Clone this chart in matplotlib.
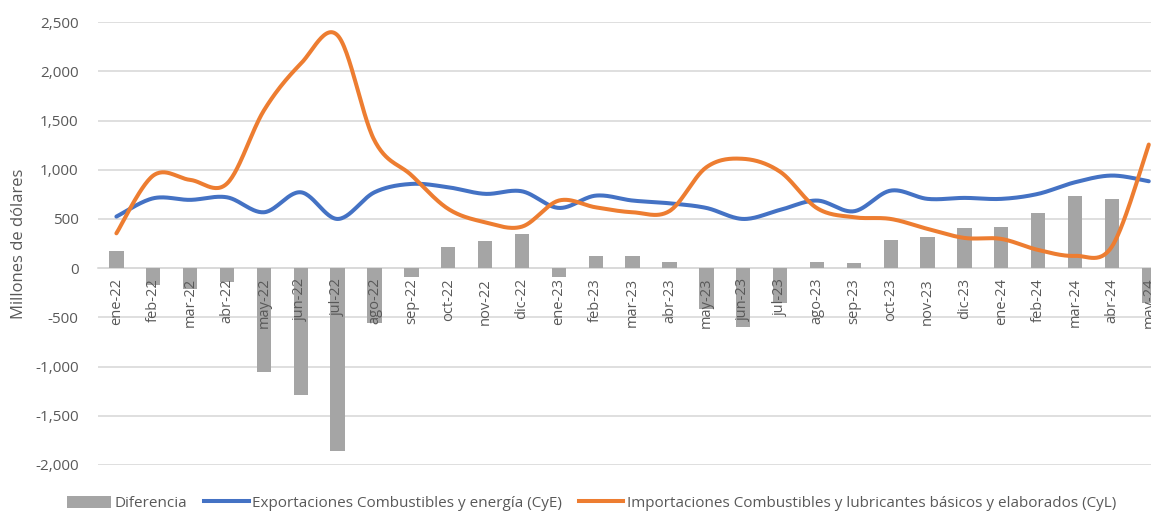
import numpy as np
import matplotlib
matplotlib.use("Agg")
import matplotlib.pyplot as plt
from matplotlib.patches import Patch
from matplotlib.lines import Line2D

months = ["ene-22", "feb-22", "mar-22", "abr-22", "may-22", "jun-22", "jul-22", "ago-22",
          "sep-22", "oct-22", "nov-22", "dic-22", "ene-23", "feb-23", "mar-23", "abr-23",
          "may-23", "jun-23", "jul-23", "ago-23", "sep-23", "oct-23", "nov-23", "dic-23",
          "ene-24", "feb-24", "mar-24", "abr-24", "may-24"]

diferencia = [175, -175, -210, -145, -1055, -1285, -1856, -557,
              -85, 212, 280, 350, -85, 125, 125, 65,
              -420, -600, -355, 65, 55, 290, 320, 408,
              418, 563, 735, 698, -355]

exportaciones = [524, 710, 694, 720, 568, 771, 500, 771,
                 856, 822, 755, 781, 612, 737, 687, 659,
                 612, 500, 592, 687, 578, 788, 704, 714,
                 704, 755, 873, 941, 883]

importaciones = [354, 941, 897, 860, 1602, 2077, 2365, 1297,
                 945, 602, 466, 422, 687, 618, 568, 580,
                 1025, 1111, 980, 610, 517, 500, 399, 307,
                 297, 185, 125, 220, 1256]

BLUE = "#4472C4"
ORANGE = "#ED7D31"
GRAY = "#A5A5A5"
TXT = "#595959"


def smooth(x, y, n=30):
    # bezier smoothing similar to spreadsheet "smoothed line"
    x = np.asarray(x, float)
    y = np.asarray(y, float)
    px = np.concatenate([[x[0]], x, [x[-1]]])
    py = np.concatenate([[y[0]], y, [y[-1]]])
    xs, ys = [], []
    t = np.linspace(0, 1, n)
    for i in range(1, len(px) - 2):
        p0 = np.array([px[i - 1], py[i - 1]])
        p1 = np.array([px[i], py[i]])
        p2 = np.array([px[i + 1], py[i + 1]])
        p3 = np.array([px[i + 2], py[i + 2]])
        c1 = p1 + (p2 - p0) / 6
        c2 = p2 - (p3 - p1) / 6
        b = ((1 - t) ** 3)[:, None] * p1 + (3 * (1 - t) ** 2 * t)[:, None] * c1 \
            + (3 * (1 - t) * t ** 2)[:, None] * c2 + (t ** 3)[:, None] * p2
        xs.append(b[:, 0])
        ys.append(b[:, 1])
    return np.concatenate(xs), np.concatenate(ys)


plt.rcParams["font.family"] = ["Open Sans", "DejaVu Sans"]

fig = plt.figure(figsize=(11.51, 5.12), dpi=100)
ax = fig.add_axes([0.0851, 0.0918, 0.929, 0.865])

x = np.arange(len(months))
ax.bar(x, diferencia, width=0.39, color=GRAY, zorder=2)

sx, sy = smooth(x, exportaciones)
ax.plot(sx, sy, color=BLUE, lw=2.9, solid_capstyle="round", zorder=3)
sx, sy = smooth(x, importaciones)
ax.plot(sx, sy, color=ORANGE, lw=2.9, solid_capstyle="round", zorder=3)

ax.set_xlim(-0.5, len(months) - 0.5)
ax.set_ylim(-2000, 2500)
yt = np.arange(-2000, 2501, 500)
ax.set_yticks(yt)
ax.set_yticklabels([f"{v:,}" for v in yt], color=TXT, fontsize=11)
ax.yaxis.grid(True, color="#D9D9D9", lw=1.2)
ax.yaxis.set_zorder(0.5)
ax.xaxis.set_zorder(5)
for s in ["top", "right", "left"]:
    ax.spines[s].set_visible(False)
ax.spines["bottom"].set_position(("data", 0))
ax.spines["bottom"].set_color("#D9D9D9")
ax.spines["bottom"].set_linewidth(1.2)
ax.spines["bottom"].set_zorder(1)
ax.tick_params(axis="both", length=0)
ax.tick_params(axis="y", pad=14)

ax.set_xticks(x)
ax.set_xticklabels(months, rotation=90, color=TXT, fontsize=10.5, va="top", ha="center")
ax.tick_params(axis="x", pad=7)

ax.set_ylabel("Millones de dólares", color=TXT, fontsize=12, labelpad=6)

handles = [
    Patch(facecolor=GRAY, edgecolor="none"),
    Line2D([0], [0], color=BLUE, lw=2.9),
    Line2D([0], [0], color=ORANGE, lw=2.9),
]
labels = ["Diferencia", "Exportaciones Combustibles y energía (CyE)",
          "Importaciones Combustibles y lubricantes básicos y elaborados (CyL)"]
fig.legend(handles, labels, loc="lower center", bbox_to_anchor=(0.514, -0.025), ncol=3,
           frameon=False, fontsize=11, labelcolor=TXT, handlelength=2.9,
           handleheight=0.8, handletextpad=0.25, columnspacing=1.1)

fig.savefig("out.png", dpi=100)
